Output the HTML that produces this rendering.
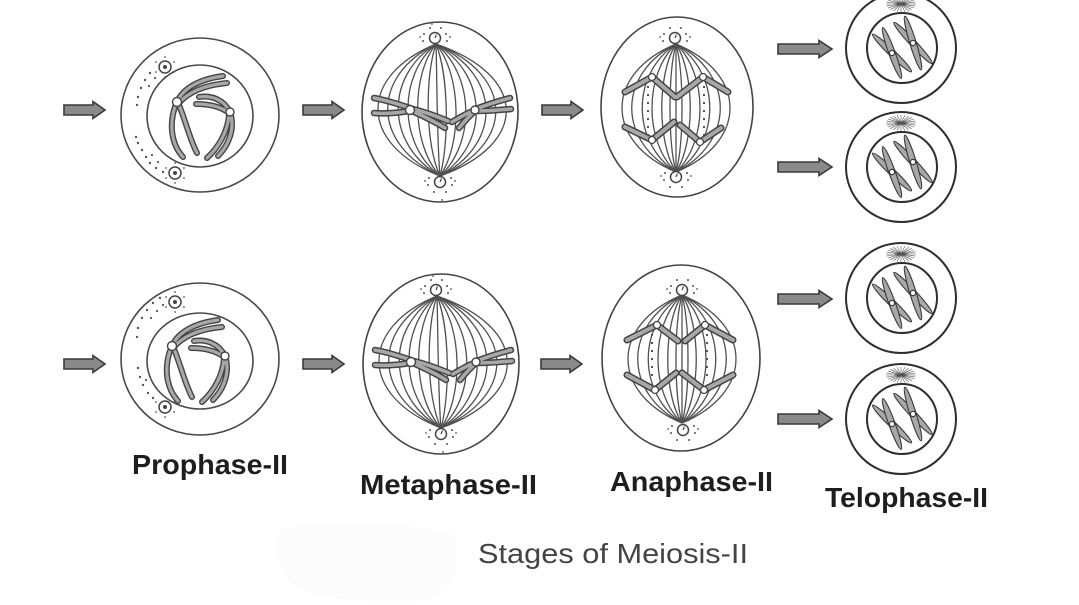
<!DOCTYPE html>
<html><head><meta charset="utf-8">
<style>
html,body{margin:0;padding:0;background:#fff;}
svg{display:block;}
</style></head>
<body>
<svg width="1079" height="605" viewBox="0 0 1079 605" xmlns="http://www.w3.org/2000/svg" xmlns:xlink="http://www.w3.org/1999/xlink">
<defs>
  <path id="arr" d="M0,-5 H29 V-8.5 L41,0 L29,8.5 V5 H0 Z" fill="#8a8a8a" stroke="#3a3a3a" stroke-width="1.6"/>
  <path id="arrL" d="M0,-5 H41 V-8.5 L54,0 L41,8.5 V5 H0 Z" fill="#8a8a8a" stroke="#3a3a3a" stroke-width="1.6"/>

  <g id="cen">
    <circle r="5.5" fill="#fff" stroke="#444" stroke-width="1.5"/>
    <path d="M0,0 L1.5,-3.5" stroke="#444" stroke-width="1.2"/>
    <g fill="#555">
      <circle cx="-11" cy="-4" r="1"/><circle cx="-12" cy="3" r="1"/>
      <circle cx="11" cy="-4" r="1"/><circle cx="12" cy="3" r="1"/>
      <circle cx="-5" cy="-10" r="1"/><circle cx="6" cy="-10" r="1"/>
      <circle cx="-6" cy="10" r="1"/><circle cx="6" cy="10" r="1"/>
      <circle cx="-15" cy="-1" r="0.9"/><circle cx="15" cy="-1" r="0.9"/>
    </g>
  </g>

  <g id="cent">
    <circle r="6" fill="#fff" stroke="#444" stroke-width="1.5"/>
    <circle r="2" fill="#444"/>
    <g fill="#555">
      <circle cx="-9" cy="-5" r="0.9"/><circle cx="9" cy="-5" r="0.9"/>
      <circle cx="-9" cy="5" r="0.9"/><circle cx="9" cy="5" r="0.9"/>
      <circle cx="0" cy="-10" r="0.9"/><circle cx="0" cy="10" r="0.9"/>
    </g>
  </g>

  <g id="proChr" fill="none">
    <path d="M177,102 C183,88 200,79 223,76"/>
    <path d="M178,104 C188,92 205,85 227,83"/>
    <path d="M176,104 C168,125 172,145 183,157"/>
    <path d="M179,105 C186,122 190,140 197,153"/>
    <path d="M230,112 C224,100 212,95 199,97"/>
    <path d="M229,113 C220,106 208,104 196,104"/>
    <path d="M229,114 C228,132 218,148 207,158"/>
    <path d="M231,115 C235,133 226,148 218,156"/>
  </g>
  <g id="proCell">
    <use xlink:href="#proChr" href="#proChr" stroke="#444" stroke-width="6" stroke-linecap="round"/>
    <use xlink:href="#proChr" href="#proChr" stroke="#a8a8a8" stroke-width="3.2" stroke-linecap="round"/>
    <circle cx="177" cy="102" r="4.5" fill="#fff" stroke="#444" stroke-width="1.4"/>
    <circle cx="230" cy="112" r="4" fill="#fff" stroke="#444" stroke-width="1.4"/>
  </g>

  <g id="metaFib" fill="none" stroke="#505050" stroke-width="1.3">
    <path d="M436,44 C358,76 358,144 440,176"/>
    <path d="M436,44 C371,76 371,144 440,176"/>
    <path d="M436,44 C385,76 385,144 440,176"/>
    <path d="M436,44 C398,76 398,144 440,176"/>
    <path d="M436,44 C411,76 411,144 440,176"/>
    <path d="M436,44 C425,76 425,144 440,176"/>
    <path d="M436,44 C437,76 437,144 440,176"/>
    <path d="M436,44 C449,76 449,144 440,176"/>
    <path d="M436,44 C462,76 462,144 440,176"/>
    <path d="M436,44 C475,76 475,144 440,176"/>
    <path d="M436,44 C489,76 489,144 440,176"/>
    <path d="M436,44 C502,76 502,144 440,176"/>
    <path d="M436,44 C515,76 515,144 440,176"/>
    <path d="M436,44 C529,76 529,144 440,176"/>
  </g>
  <g id="metaChr" fill="none">
    <path d="M410,108 C398,104 386,100 374,98"/>
    <path d="M409,111 C397,113 386,114 374,113"/>
    <path d="M412,111 C423,116 434,121 445,128"/>
    <path d="M413,109 C425,112 436,116 448,121"/>
    <path d="M476,109 C488,104 499,101 510,98"/>
    <path d="M476,111 C488,111 499,110 511,109"/>
    <path d="M473,111 C465,114 459,118 452,122"/>
    <path d="M474,112 C468,117 464,122 459,128"/>
  </g>
  <g id="metaCell">
    <ellipse cx="440" cy="112" rx="78" ry="90" fill="#fff" stroke="#444" stroke-width="1.6"/>
    <use xlink:href="#metaFib" href="#metaFib"/>
    <use xlink:href="#metaChr" href="#metaChr" stroke="#444" stroke-width="6.5" stroke-linecap="round"/>
    <use xlink:href="#metaChr" href="#metaChr" stroke="#a8a8a8" stroke-width="3.5" stroke-linecap="round"/>
    <circle cx="410" cy="110" r="4.5" fill="#fff" stroke="#444" stroke-width="1.4"/>
    <circle cx="475" cy="110" r="4" fill="#fff" stroke="#444" stroke-width="1.4"/>
    <use xlink:href="#cen" href="#cen" x="435" y="38"/>
    <use xlink:href="#cen" href="#cen" x="440" y="182"/>
    <path d="M432,22 v3 M442,199 v3" stroke="#555" stroke-width="1.2"/>
  </g>

  <g id="anaFib" fill="none" stroke="#505050" stroke-width="1.3">
    <path d="M676,44 C604,74 604,142 676,172"/>
    <path d="M676,44 C617,74 617,142 676,172"/>
    <path d="M676,44 C631,74 631,142 676,172"/>
    <path d="M676,44 C644,74 644,142 676,172"/>
    <path d="M676,44 C657,74 657,142 676,172"/>
    <path d="M676,44 C668,74 668,142 676,172"/>
    <path d="M676,44 C676,74 676,142 676,172"/>
    <path d="M676,44 C684,74 684,142 676,172"/>
    <path d="M676,44 C695,74 695,142 676,172"/>
    <path d="M676,44 C708,74 708,142 676,172"/>
    <path d="M676,44 C721,74 721,142 676,172"/>
    <path d="M676,44 C735,74 735,142 676,172"/>
    <path d="M676,44 C748,74 748,142 676,172"/>
  </g>

  <g id="telo">
    <circle r="55" fill="none" stroke="#2e2e2e" stroke-width="2"/>
    <circle cx="1" cy="0" r="35" fill="none" stroke="#2e2e2e" stroke-width="2"/>
    <g transform="translate(0,-44)" stroke="#555" stroke-width="0.6">
      <path d="M-15,0 L15,0 M-14.4,-2.1 L14.4,2.1 M-13,-4 L13,4 M-10.6,-5.7 L10.6,5.7 M-7.5,-6.9 L7.5,6.9 M-3.9,-7.7 L3.9,7.7 M0,-8 L0,8 M3.9,-7.7 L-3.9,7.7 M7.5,-6.9 L-7.5,6.9 M10.6,-5.7 L-10.6,5.7 M13,-4 L-13,4 M14.4,-2.1 L-14.4,2.1"/>
    </g>
    <g fill="#a8a8a8" stroke="#3a3a3a" stroke-width="1.1">
      <ellipse cx="0" cy="0" rx="27" ry="3.2" transform="translate(-9,5) rotate(44)"/>
      <ellipse cx="0" cy="0" rx="27" ry="3.2" transform="translate(-9,5) rotate(70)"/>
      <ellipse cx="0" cy="0" rx="28" ry="3.2" transform="translate(12,-5) rotate(47)"/>
      <ellipse cx="0" cy="0" rx="28" ry="3.2" transform="translate(12,-5) rotate(73)"/>
    </g>
    <circle cx="-9" cy="5" r="2.6" fill="#fff" stroke="#3a3a3a" stroke-width="1.2"/>
    <circle cx="12" cy="-5" r="2.6" fill="#fff" stroke="#3a3a3a" stroke-width="1.2"/>
  </g>
</defs>

<rect width="1079" height="605" fill="#fff"/>

<path d="M280,530 C320,520 420,522 455,535 C462,560 455,590 430,600 C380,604 330,600 300,590 C278,575 272,550 280,530 Z" fill="#fcfcfc"/>

<!-- ===== ROW 1 ===== -->
<use xlink:href="#arr" href="#arr" x="64" y="110"/>
<ellipse cx="200" cy="115" rx="79" ry="77" fill="none" stroke="#4a4a4a" stroke-width="1.6"/>
<ellipse cx="200" cy="116" rx="53" ry="51" fill="none" stroke="#4a4a4a" stroke-width="1.6"/>
<g fill="#555">
  <circle cx="150" cy="73" r="1.2"/><circle cx="145" cy="80" r="1.2"/><circle cx="141" cy="88" r="1.2"/>
  <circle cx="138" cy="97" r="1.2"/><circle cx="137" cy="105" r="1.2"/><circle cx="155" cy="78" r="1.1"/>
  <circle cx="149" cy="86" r="1.1"/>
  <circle cx="136" cy="137" r="1.2"/><circle cx="138" cy="143" r="1.2"/><circle cx="142" cy="150" r="1.2"/>
  <circle cx="146" cy="157" r="1.2"/><circle cx="150" cy="163" r="1.2"/><circle cx="156" cy="168" r="1.2"/>
  <circle cx="163" cy="172" r="1.2"/><circle cx="152" cy="155" r="1.1"/><circle cx="158" cy="162" r="1.1"/>
</g>
<use xlink:href="#cent" href="#cent" x="165" y="67"/>
<use xlink:href="#cent" href="#cent" x="175" y="173"/>
<use xlink:href="#proCell" href="#proCell"/>

<use xlink:href="#arr" href="#arr" x="303" y="110"/>
<use xlink:href="#metaCell" href="#metaCell"/>
<use xlink:href="#arr" href="#arr" x="542" y="110"/>

<ellipse cx="677" cy="107" rx="76" ry="90" fill="#fff" stroke="#444" stroke-width="1.6"/>
<use xlink:href="#anaFib" href="#anaFib"/>
<g stroke="#555" stroke-width="2" stroke-dasharray="2 6" fill="none">
  <path d="M648,86 V136"/><path d="M704,86 V136"/>
</g>
<g fill="none" id="anaChr1">
  <path d="M652,77 L625,92"/><path d="M652,77 L675,97"/>
  <path d="M703,77 L677,97"/><path d="M703,77 L728,92"/>
  <path d="M652,140 L625,127"/><path d="M652,140 L674,122"/>
  <path d="M700,142 L680,125"/><path d="M700,142 L721,128"/>
</g>
<use xlink:href="#anaChr1" href="#anaChr1" stroke="#444" stroke-width="7" stroke-linecap="round"/>
<use xlink:href="#anaChr1" href="#anaChr1" stroke="#a8a8a8" stroke-width="4" stroke-linecap="round"/>
<g fill="#fff" stroke="#444" stroke-width="1.3">
  <circle cx="652" cy="77" r="3.5"/><circle cx="703" cy="77" r="3.5"/>
  <circle cx="652" cy="140" r="3.5"/><circle cx="700" cy="142" r="3.5"/>
</g>
<use xlink:href="#cen" href="#cen" x="675" y="38"/>
<use xlink:href="#cen" href="#cen" x="676" y="177"/>

<use xlink:href="#arrL" href="#arrL" x="778" y="49"/>
<use xlink:href="#arrL" href="#arrL" x="778" y="167"/>
<use xlink:href="#telo" href="#telo" x="901" y="48"/>
<use xlink:href="#telo" href="#telo" x="901" y="167"/>

<!-- ===== ROW 2 ===== -->
<use xlink:href="#arr" href="#arr" x="64" y="364"/>
<ellipse cx="200" cy="359" rx="79" ry="76" fill="none" stroke="#4a4a4a" stroke-width="1.6"/>
<ellipse cx="200" cy="361" rx="53" ry="48" fill="none" stroke="#4a4a4a" stroke-width="1.6"/>
<g fill="#555">
  <circle cx="160" cy="298" r="1.2"/><circle cx="153" cy="303" r="1.2"/><circle cx="147" cy="310" r="1.2"/>
  <circle cx="142" cy="318" r="1.2"/><circle cx="138" cy="328" r="1.2"/><circle cx="137" cy="337" r="1.2"/>
  <circle cx="163" cy="305" r="1.1"/><circle cx="157" cy="311" r="1.1"/><circle cx="151" cy="318" r="1.1"/>
  <circle cx="138" cy="368" r="1.2"/><circle cx="140" cy="377" r="1.2"/><circle cx="143" cy="385" r="1.2"/>
  <circle cx="148" cy="393" r="1.2"/><circle cx="153" cy="398" r="1.2"/><circle cx="146" cy="380" r="1.1"/>
</g>
<use xlink:href="#cent" href="#cent" x="175" y="302"/>
<use xlink:href="#cent" href="#cent" x="165" y="407"/>
<use xlink:href="#proCell" href="#proCell" x="-5" y="244"/>

<use xlink:href="#arr" href="#arr" x="303" y="364"/>
<use xlink:href="#metaCell" href="#metaCell" x="1" y="252"/>
<use xlink:href="#arr" href="#arr" x="541" y="364"/>

<ellipse cx="681" cy="358" rx="79" ry="93" fill="#fff" stroke="#444" stroke-width="1.6"/>
<use xlink:href="#anaFib" href="#anaFib" x="6" y="251"/>
<g stroke="#555" stroke-width="2" stroke-dasharray="2 6" fill="none">
  <path d="M652,334 V378"/><path d="M707,334 V378"/>
</g>
<g fill="none" id="anaChr2">
  <path d="M657,325 L627,340"/><path d="M657,325 L678,341"/>
  <path d="M705,325 L685,341"/><path d="M705,325 L733,340"/>
  <path d="M655,390 L627,375"/><path d="M655,390 L676,373"/>
  <path d="M704,390 L682,373"/><path d="M704,390 L733,375"/>
</g>
<use xlink:href="#anaChr2" href="#anaChr2" stroke="#444" stroke-width="7" stroke-linecap="round"/>
<use xlink:href="#anaChr2" href="#anaChr2" stroke="#a8a8a8" stroke-width="4" stroke-linecap="round"/>
<g fill="#fff" stroke="#444" stroke-width="1.3">
  <circle cx="657" cy="325" r="3.5"/><circle cx="705" cy="325" r="3.5"/>
  <circle cx="655" cy="390" r="3.5"/><circle cx="704" cy="390" r="3.5"/>
</g>
<use xlink:href="#cen" href="#cen" x="682" y="290"/>
<use xlink:href="#cen" href="#cen" x="683" y="430"/>

<use xlink:href="#arrL" href="#arrL" x="778" y="299"/>
<use xlink:href="#arrL" href="#arrL" x="778" y="419"/>
<use xlink:href="#telo" href="#telo" x="901" y="298"/>
<use xlink:href="#telo" href="#telo" x="901" y="419"/>

<!-- ===== LABELS ===== -->
<g font-family="'Liberation Sans', Arial, sans-serif" font-weight="bold" font-size="28" fill="#1e1e1e">
  <text x="132" y="474" textLength="156" lengthAdjust="spacingAndGlyphs">Prophase-II</text>
  <text x="360" y="494" textLength="177" lengthAdjust="spacingAndGlyphs">Metaphase-II</text>
  <text x="610" y="491" textLength="163" lengthAdjust="spacingAndGlyphs">Anaphase-II</text>
  <text x="825" y="507" textLength="163" lengthAdjust="spacingAndGlyphs">Telophase-II</text>
</g>
<text x="478" y="563" font-family="'Liberation Sans', Arial, sans-serif" font-size="28" fill="#444" textLength="270" lengthAdjust="spacingAndGlyphs">Stages of Meiosis-II</text>
</svg>
</body></html>
